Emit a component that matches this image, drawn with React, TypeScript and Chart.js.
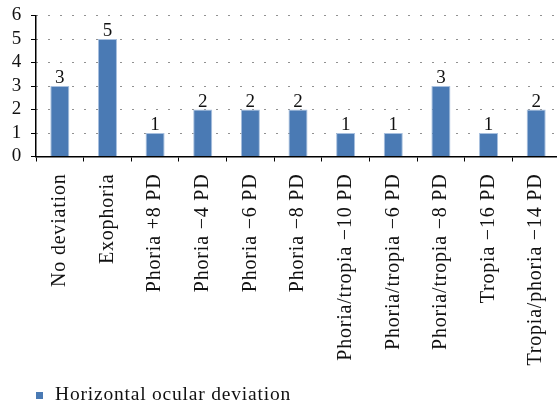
import React, { useEffect, useRef } from "react";
import { Chart, registerables } from "chart.js";

Chart.register(...registerables);

const categories = [
  "No deviation",
  "Exophoria",
  "Phoria +8 PD",
  "Phoria \u22124 PD",
  "Phoria \u22126 PD",
  "Phoria \u22128 PD",
  "Phoria/tropia \u221210 PD",
  "Phoria/tropia \u22126 PD",
  "Phoria/tropia \u22128 PD",
  "Tropia \u221216 PD",
  "Tropia/phoria \u221214 PD",
];
const values = [3, 5, 1, 2, 2, 2, 1, 1, 3, 1, 2];
const seriesName = "Horizontal ocular deviation";
const yTicks = [0, 1, 2, 3, 4, 5, 6];

const FONT = "'Liberation Serif', 'Times New Roman', serif";
const BAR = "#4a7ab4";
const SPACING = "0.8px";

const letterSpacing = {
  id: "letterSpacing",
  beforeUpdate(chart: any) {
    chart.ctx.letterSpacing = SPACING;
  },
  beforeLayout(chart: any) {
    chart.ctx.letterSpacing = SPACING;
  },
  beforeDraw(chart: any) {
    chart.ctx.letterSpacing = SPACING;
  },
};

const valueLabels = {
  id: "valueLabels",
  afterDatasetsDraw(chart: any) {
    const ctx = chart.ctx;
    const meta = chart.getDatasetMeta(0);
    ctx.save();
    ctx.letterSpacing = "0px";
    ctx.font = `19px ${FONT}`;
    ctx.fillStyle = "#111";
    ctx.textAlign = "center";
    ctx.textBaseline = "alphabetic";
    meta.data.forEach((bar: any, i: number) => {
      ctx.fillText(String(values[i]), bar.x, bar.y - 3);
    });
    ctx.restore();
  },
};

const customLegend = {
  id: "customLegend",
  afterDraw(chart: any) {
    const ctx = chart.ctx;
    const x = chart.chartArea.left;
    const base = 400;
    ctx.save();
    ctx.fillStyle = BAR;
    ctx.fillRect(x, base - 8, 7, 7);
    ctx.font = `19.5px ${FONT}`;
    ctx.fillStyle = "#111";
    ctx.textAlign = "left";
    ctx.textBaseline = "alphabetic";
    ctx.fillText(chart.data.datasets[0].label, x + 19, base);
    ctx.restore();
  },
};

export default function App() {
  const ref = useRef<HTMLCanvasElement>(null);
  useEffect(() => {
    document.body.style.overflow = "hidden";
    const chart = new Chart(ref.current!, {
      type: "bar",
      data: {
        labels: categories,
        datasets: [
          {
            label: seriesName,
            data: values,
            backgroundColor: BAR,
            borderColor: "#a8c0df",
            borderWidth: 1,
            barPercentage: 0.4,
            categoryPercentage: 1,
          },
        ],
      },
      options: {
        animation: false,
        responsive: false,
        maintainAspectRatio: false,
        layout: { padding: { top: 15.5, left: 0, right: 2, bottom: 36 } },
        plugins: {
          tooltip: { enabled: false },
          legend: { display: false },
        },
        scales: {
          x: {
            border: { color: "#000", width: 1.5 },
            grid: {
              display: true,
              drawOnChartArea: false,
              drawTicks: true,
              tickLength: 5,
              tickColor: "#000",
              offset: true,
            },
            afterFit: (scale: any) => {
              scale.height = 211.5;
              scale.paddingLeft = 0;
              scale.paddingRight = 0;
            },
            ticks: {
              minRotation: 90,
              maxRotation: 90,
              autoSkip: false,
              color: "#111",
              padding: 12,
              font: { family: FONT, size: 20 },
            },
          },
          y: {
            min: 0,
            max: 6,
            border: { color: "#000", width: 1.5, dash: [1, 11] },
            grid: {
              color: "#222",
              lineWidth: 1,
              tickBorderDash: [],
              tickLength: 5,
              tickColor: "#000",
            },
            afterBuildTicks: (axis: any) => {
              axis.ticks = yTicks.map((v) => ({ value: v }));
            },
            afterFit: (scale: any) => {
              scale.width = 36;
              scale.paddingTop = 0;
              scale.paddingBottom = 0;
            },
            ticks: {
              autoSkip: false,
              color: "#111",
              padding: 9,
              font: { family: FONT, size: 19 },
            },
          },
        },
      },
      plugins: [letterSpacing, valueLabels, customLegend],
    });
    return () => chart.destroy();
  }, []);
  return (
    <div style={{ position: "fixed", left: 0, top: 0, width: 562, height: 404 }}>
      <canvas ref={ref} width={562} height={404} style={{ width: 562, height: 404 }} />
    </div>
  );
}
